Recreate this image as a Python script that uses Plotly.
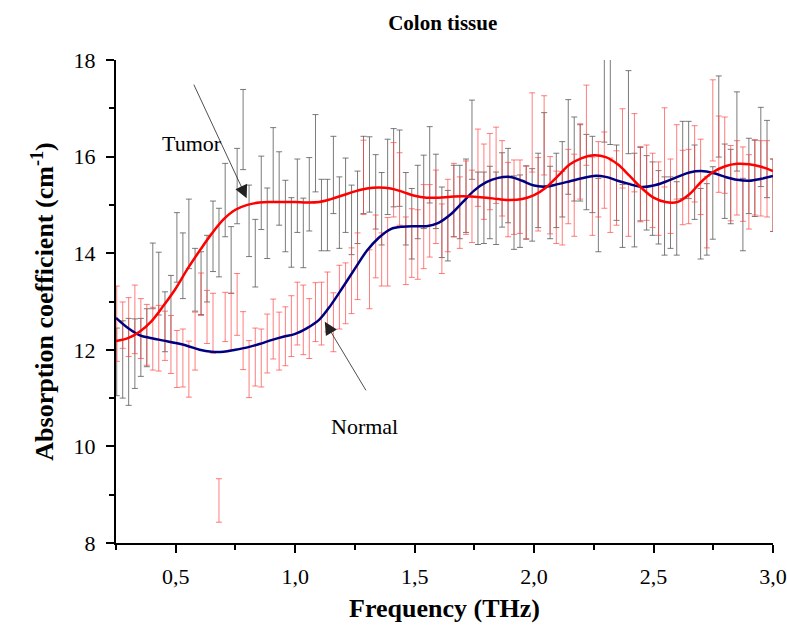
import plotly.graph_objects as go

# Smoothed absorption spectra (THz)
freq_fit = [0.25, 0.30, 0.35, 0.40, 0.45, 0.50, 0.55, 0.60, 0.65, 0.70,
            0.75, 0.80, 0.85, 0.90, 0.95, 1.00, 1.05, 1.10, 1.15, 1.20,
            1.25, 1.30, 1.35, 1.40, 1.45, 1.50, 1.55, 1.60, 1.65, 1.70,
            1.75, 1.80, 1.85, 1.90, 1.95, 2.00, 2.05, 2.10, 2.15, 2.20,
            2.25, 2.30, 2.35, 2.40, 2.45, 2.50, 2.55, 2.60, 2.65, 2.70,
            2.75, 2.80, 2.85, 2.90, 2.95, 3.00]

tumor_fit = [12.18, 12.24, 12.38, 12.60, 12.92, 13.27, 13.68, 14.05, 14.40, 14.70,
             14.90, 15.00, 15.05, 15.06, 15.06, 15.06, 15.05, 15.06, 15.12, 15.20,
             15.28, 15.34, 15.36, 15.34, 15.27, 15.19, 15.15, 15.15, 15.17, 15.18,
             15.17, 15.15, 15.12, 15.10, 15.12, 15.20, 15.36, 15.60, 15.84, 15.97,
             16.03, 15.99, 15.84, 15.60, 15.35, 15.15, 15.06, 15.06, 15.22, 15.48,
             15.68, 15.80, 15.85, 15.84, 15.79, 15.70]

normal_fit = [12.66, 12.45, 12.30, 12.24, 12.19, 12.14, 12.08, 12.00, 11.96, 11.96,
              12.00, 12.05, 12.12, 12.20, 12.27, 12.33, 12.45, 12.62, 12.93, 13.30,
              13.68, 14.05, 14.32, 14.50, 14.55, 14.56, 14.56, 14.63, 14.80, 15.05,
              15.30, 15.47, 15.56, 15.58, 15.50, 15.40, 15.38, 15.43, 15.49, 15.55,
              15.60, 15.58, 15.50, 15.43, 15.37, 15.40, 15.48, 15.58, 15.67, 15.70,
              15.66, 15.58, 15.52, 15.50, 15.54, 15.60]

# Measured points with standard deviation
freq_meas = [0.253, 0.278, 0.303, 0.329, 0.354, 0.379, 0.404, 0.429, 0.455, 0.480,
             0.505, 0.530, 0.555, 0.581, 0.606, 0.631, 0.656, 0.681, 0.707, 0.732,
             0.757, 0.782, 0.807, 0.833, 0.858, 0.883, 0.908, 0.933, 0.959, 0.984,
             1.009, 1.034, 1.059, 1.085, 1.110, 1.135, 1.160, 1.185, 1.211, 1.236,
             1.261, 1.286, 1.311, 1.337, 1.362, 1.387, 1.412, 1.437, 1.463, 1.488,
             1.513, 1.538, 1.563, 1.589, 1.614, 1.639, 1.664, 1.689, 1.715, 1.740,
             1.765, 1.790, 1.815, 1.841, 1.866, 1.891, 1.916, 1.941, 1.967, 1.992,
             2.017, 2.042, 2.067, 2.093, 2.118, 2.143, 2.168, 2.193, 2.219, 2.244,
             2.269, 2.294, 2.319, 2.345, 2.370, 2.395, 2.420, 2.445, 2.471, 2.496,
             2.521, 2.546, 2.571, 2.597, 2.622, 2.647, 2.672, 2.697, 2.723, 2.748,
             2.773, 2.798, 2.823, 2.849, 2.874, 2.899, 2.924, 2.949, 2.975, 3.000]

tumor_mean = [11.75, 11.80, 11.75, 11.92, 12.05, 12.25, 13.53, 13.37, 12.58, 12.85,
              14.12, 13.74, 14.40, 13.45, 13.38, 13.68, 14.35, 14.22, 15.10, 13.86,
              15.39, 16.56, 14.67, 14.00, 15.25, 14.62, 15.83, 15.34, 14.77, 14.43,
              15.19, 14.42, 15.22, 16.07, 14.79, 14.79, 15.62, 14.84, 15.20, 14.69,
              14.95, 15.62, 15.63, 15.27, 14.92, 15.58, 15.77, 15.76, 14.92, 14.61,
              15.06, 15.27, 15.83, 15.28, 14.64, 14.57, 15.08, 15.06, 15.19, 16.35,
              14.93, 14.94, 15.05, 14.93, 15.31, 15.40, 14.84, 14.87, 15.05, 15.00,
              15.30, 16.15, 15.05, 15.30, 15.53, 16.20, 15.95, 15.87, 15.68, 15.63,
              14.79, 17.30, 17.35, 15.46, 14.77, 16.92, 15.10, 15.43, 15.25, 15.13,
              14.95, 14.77, 14.84, 14.72, 15.93, 15.93, 15.47, 14.61, 14.70, 15.04,
              16.83, 15.49, 15.38, 16.52, 14.80, 15.60, 15.55, 16.20, 15.95, 15.20]

tumor_sd = [0.70, 0.80, 0.90, 0.72, 0.60, 0.60, 0.68, 0.65, 0.62, 0.69,
            0.72, 0.68, 0.72, 0.65, 0.65, 0.69, 0.73, 0.71, 0.76, 0.69,
            0.78, 0.83, 0.74, 0.70, 0.76, 0.73, 0.77, 0.76, 0.74, 0.72,
            0.76, 0.72, 0.76, 0.80, 0.74, 0.74, 0.80, 0.74, 0.77, 0.72,
            0.75, 0.80, 0.78, 0.77, 0.75, 0.78, 0.81, 0.79, 0.75, 0.73,
            0.76, 0.76, 0.79, 0.77, 0.73, 0.73, 0.74, 0.76, 0.76, 0.82,
            0.75, 0.74, 0.75, 0.75, 0.77, 0.77, 0.76, 0.75, 0.76, 0.75,
            0.77, 0.76, 0.75, 0.77, 0.78, 0.98, 0.87, 0.79, 0.78, 0.79,
            0.76, 1.00, 1.10, 0.78, 0.65, 0.86, 0.97, 0.76, 0.77, 0.76,
            0.76, 0.81, 0.74, 0.76, 0.80, 0.80, 0.77, 0.73, 0.74, 0.75,
            0.84, 0.77, 0.77, 0.82, 0.75, 0.78, 0.79, 0.82, 0.80, 0.75]

normal_mean = [12.54, 12.51, 12.47, 12.63, 12.44, 12.31, 12.23, 12.24, 12.29, 12.11,
               11.81, 11.83, 11.60, 12.18, 13.15, 12.68, 12.55, 8.88, 12.68, 12.58,
               12.94, 12.19, 11.60, 11.85, 11.83, 12.13, 12.43, 12.18, 12.28, 12.49,
               12.75, 12.62, 12.44, 12.78, 12.75, 12.99, 12.57, 13.09, 13.17, 13.43,
               13.73, 15.57, 13.46, 14.14, 13.87, 14.03, 15.52, 15.33, 14.05, 14.21,
               14.18, 14.55, 14.67, 14.96, 14.30, 14.78, 15.10, 14.84, 15.15, 14.97,
               15.77, 15.48, 15.69, 15.82, 15.55, 15.11, 15.16, 15.17, 15.05, 16.50,
               15.22, 16.44, 15.20, 14.95, 14.93, 15.38, 15.20, 15.90, 16.65, 15.18,
               15.53, 15.72, 15.20, 15.35, 16.17, 14.90, 16.08, 15.43, 15.46, 15.30,
               15.13, 16.19, 15.18, 15.89, 15.36, 15.38, 15.85, 15.58, 14.85, 16.75,
               16.05, 16.03, 15.45, 15.56, 15.43, 15.27, 15.57, 15.55, 15.54, 15.20]

normal_sd = [0.78, 0.48, 0.61, 0.71, 0.62, 0.63, 0.65, 0.68, 0.51, 0.60,
             0.59, 0.60, 0.58, 0.60, 0.44, 0.55, 0.62, 0.45, 0.51, 0.59,
             0.64, 0.60, 0.59, 0.60, 0.60, 0.61, 0.62, 0.60, 0.61, 0.63,
             0.65, 0.72, 0.62, 0.61, 0.65, 0.62, 0.61, 0.66, 0.63, 0.68,
             0.69, 0.77, 0.61, 0.65, 0.55, 0.71, 0.77, 0.75, 0.70, 0.71,
             0.72, 0.87, 0.75, 0.76, 0.72, 0.75, 0.76, 0.74, 0.76, 0.75,
             0.80, 0.78, 0.79, 0.79, 0.78, 0.77, 0.77, 0.76, 0.75, 0.82,
             0.76, 0.82, 0.80, 0.75, 0.76, 0.77, 0.85, 0.78, 0.83, 0.81,
             0.78, 0.79, 0.77, 0.77, 0.82, 0.55, 0.81, 0.78, 0.78, 0.77,
             0.76, 0.82, 0.77, 0.77, 0.77, 0.77, 0.79, 0.78, 0.74, 0.84,
             0.79, 0.79, 0.78, 0.77, 0.77, 0.77, 0.78, 0.78, 0.79, 0.75]

SERIF = "Liberation Serif"
BLANK = dict(size=2, color="rgba(0,0,0,0)")

fig = go.Figure()

# error bars of the measured tumor and normal samples
fig.add_trace(go.Scatter(
    x=freq_meas, y=tumor_mean, mode="markers", marker=BLANK,
    error_y=dict(type="data", array=tumor_sd, visible=True,
                 color="rgba(90,90,90,0.8)", thickness=1, width=3),
    showlegend=False, hoverinfo="skip"))
fig.add_trace(go.Scatter(
    x=freq_meas, y=normal_mean, mode="markers", marker=BLANK,
    error_y=dict(type="data", array=normal_sd, visible=True,
                 color="rgba(255,70,70,0.7)", thickness=1, width=3),
    showlegend=False, hoverinfo="skip"))

# smoothed curves
fig.add_trace(go.Scatter(
    x=freq_fit, y=normal_fit, mode="lines",
    line=dict(color="#000080", width=2.5, shape="spline", smoothing=1.0),
    name="Normal", showlegend=False))
fig.add_trace(go.Scatter(
    x=freq_fit, y=tumor_fit, mode="lines",
    line=dict(color="#ff0000", width=2.5, shape="spline", smoothing=1.0),
    name="Tumor", showlegend=False))

label_font = dict(family=SERIF, size=22, color="black")
fig.add_annotation(x=0.566, y=16.27, text="Tumor", showarrow=False, font=label_font)
fig.add_annotation(x=1.292, y=10.42, text="Normal", showarrow=False, font=label_font)
for head_x, head_y, tail_x, tail_y in [(0.797, 15.14, 0.573, 17.52),
                                       (1.124, 12.58, 1.300, 11.13)]:
    fig.add_annotation(x=head_x, y=head_y, ax=tail_x, ay=tail_y,
                       axref="x", ayref="y", xref="x", yref="y",
                       text="", showarrow=True, arrowhead=2, arrowsize=3.2,
                       arrowwidth=0.8, arrowcolor="#222222")

axis_common = dict(showline=True, linecolor="black", linewidth=2,
                   ticks="outside", ticklen=8, tickwidth=2, tickcolor="black",
                   showgrid=False, zeroline=False, mirror=False, automargin=False,
                   tickfont=dict(family=SERIF, size=22, color="black"))

fig.update_xaxes(range=[0.25, 3.0], tickvals=[0.5, 1.0, 1.5, 2.0, 2.5, 3.0],
                 tickformat=".1f", ticklabelstandoff=5,
                 minor=dict(tickvals=[0.25, 0.75, 1.25, 1.75, 2.25, 2.75],
                            ticks="outside", ticklen=5, tickwidth=2,
                            tickcolor="black"),
                 title=dict(text="<b>Frequency (THz)</b>", standoff=10,
                            font=dict(family=SERIF, size=26, color="black")),
                 **axis_common)
fig.update_yaxes(range=[8, 18], tickvals=[8, 10, 12, 14, 16, 18],
                 ticklabelstandoff=6,
                 minor=dict(tickvals=[9, 11, 13, 15, 17],
                            ticks="outside", ticklen=5, tickwidth=2,
                            tickcolor="black"),
                 title=dict(text="<b>Absorption coefficient (cm<sup>-1</sup>)</b>",
                            standoff=12,
                            font=dict(family=SERIF, size=26, color="black")),
                 **axis_common)

fig.update_layout(
    width=787, height=633,
    margin=dict(l=116, r=14, t=60, b=90, autoexpand=False),
    paper_bgcolor="white", plot_bgcolor="white",
    separators=",.",
    title=dict(text="<b>Colon tissue</b>", x=0.5625, xanchor="center",
               y=0.965, yanchor="middle",
               font=dict(family=SERIF, size=21, color="black")),
)

fig.write_html("out.html")
